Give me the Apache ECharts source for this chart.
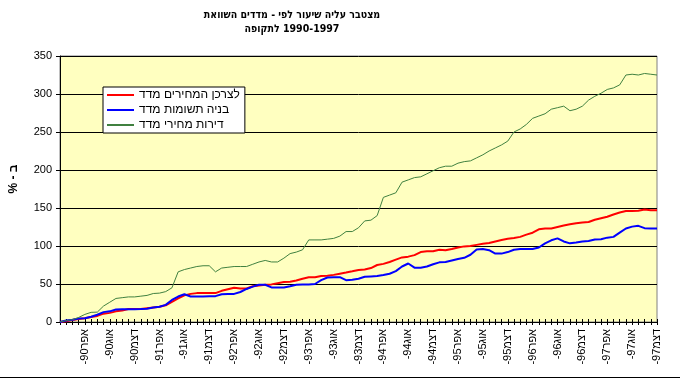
<!DOCTYPE html>
<html>
<head>
<meta charset="utf-8">
<script src="https://cdn.jsdelivr.net/npm/echarts@6/dist/echarts.min.js"></script>
<style>html,body{margin:0;padding:0;background:#fff}#c{width:680px;height:380px}</style>
</head>
<body>
<div id="c"></div>
<script>
// Texts as word lists; the reference shows the Hebrew words in left-to-right word order,
// so each word is laid out as its own rich-text token.
var titleWords1 = ['השוואת', 'מדדים', '-', 'לפי', 'שיעור', 'עליה', 'מצטבר'];
var titleWords2 = ['לתקופה', '1990-1997'];
var yAxisName = '% - ב';

var seriesNames = ['מדד המחירים לצרכן', 'מדד תשומות בניה', 'מדד מחירי דירות'];

var monthNames = ['ינו','פבר','מרץ','אפר','מאי','יונ','יול','אוג','ספט','אוק','נוב','דצמ'];
var years = ['89','90','91','92','93','94','95','96','97'];

// categories: Dec-89 .. Dec-97 (97 months)
var categories = ['דצמ-89'];
for (var y = 1; y < years.length; y++) {
  for (var m = 0; m < 12; m++) categories.push(monthNames[m] + '-' + years[y]);
}

var cpi = [0,1,2.6,4,5,6.5,8,11,12,14,15,17,17,17,18,19,20,22,26.5,31,35,37,38,38,38,
  38,41,43,45,44,44,47,48,49,49.5,51,52.5,53,54.5,57,59,59,60.5,61,62,63.5,65,66.7,68.5,
  69,71,75,76.5,79,82,85,86,88,92,93,93,95,94.5,96,98,99.5,100,101.5,103,104,106,108,109.5,
  110.5,112,115,117.5,122,123,123,125,127,128.5,130,131,131.5,134.5,136.5,138.5,141.5,144,146,146,146.5,148,147,147];

var construction = [0,2,3,4.5,5,7,9.5,13,14,16.5,16.7,16.7,16.7,17,17.5,19,20,22.5,29,33.5,36.5,33.5,33.5,33.5,33.8,
  34,36.5,37,37,39.5,43.5,46.5,49,49,45.5,45.5,45.5,47,49,49.5,49.5,50,55,58.5,59,59,55,55.5,57,
  59.5,60,60.5,61.8,63.5,67,73,77,71.5,71.5,73,76,78.5,79,81,83,84.5,88.5,95.5,96,94.5,90,90,92,
  95,96,96,96,98,103.5,107.5,110,106,103.5,104.5,106,106.5,108.5,109,111,112,117.5,123,125.5,126.5,123.5,123,123];

var housing = [0,2,3,6,10,12.7,13,21,26,31,32,33,33,34,35,37.5,38,40,45,66,69,71,73,74,74,
  66,71,72,73,73,73,76,79,81,79,79,84,90,92,95,108,108,108,109,110,113,119,119,124,
  133,134,140,164,167,170,184,187,190,191,195,199,203,205,205,209,211,212,216,220,225,229,233,238,
  250,254,260,268,271,274,280,282,284,278,280,284,292,297,301,306,308,312,325,326,325,327,326,325];

var seriesColors = ['#FF0000', '#0000FF', '#408040'];
var seriesWidths = [2, 2, 1];
var seriesData = [cpi, construction, housing];

var yMin = 0, yMax = 350, yStep = 50;

var labelFont = 'Liberation Sans, Arial, sans-serif';
var narrowFont = 'Liberation Sans Narrow, DejaVu Sans Condensed, Arial Narrow, sans-serif';

// each word becomes a token, tokens are placed left to right
function tokens(words, style) {
  return words.map(function (w, i) {
    return '{' + style + '|' + w + (i < words.length - 1 ? ' ' : '') + '}';
  }).join('');
}

var chart = echarts.init(document.getElementById('c'), null, {renderer: 'canvas'});

var series = seriesNames.map(function (name, i) {
  return {
    name: name,
    type: 'line',
    xAxisIndex: 0,
    data: seriesData[i],
    symbol: 'none',
    showSymbol: false,
    animation: false,
    lineStyle: {color: seriesColors[i], width: seriesWidths[i]},
    itemStyle: {color: seriesColors[i]},
    z: 2 + i
  };
});

var titleRich = {t: {fontFamily: narrowFont, fontSize: 10.5, fontWeight: 'bold', color: '#000', lineHeight: 13}};

chart.setOption({
  animation: false,
  backgroundColor: '#FFFFFF',
  title: [
    {text: tokens(titleWords1, 't'), left: 287, top: 4, textAlign: 'center',
     textStyle: {rich: titleRich}},
    {text: tokens(titleWords2, 't'), left: 287, top: 18, textAlign: 'center',
     textStyle: {rich: titleRich}}
  ],
  legend: {
    orient: 'vertical',
    left: 103, top: 87,
    padding: [1, 5, 1, 4],
    itemGap: 1,
    itemWidth: 27,
    itemHeight: 2,
    icon: 'rect',
    backgroundColor: '#FFFFFF',
    borderColor: '#000000',
    borderWidth: 1,
    borderRadius: 0,
    formatter: function (name) { return tokens(name.split(' '), 'l'); },
    textStyle: {
      fontFamily: labelFont, fontSize: 12, color: '#000',
      rich: {l: {fontFamily: labelFont, fontSize: 12, color: '#000', lineHeight: 14, height: 14}}
    },
    data: seriesNames
  },
  grid: {
    left: 60, right: 23, top: 56, bottom: 58,
    show: true, backgroundColor: '#FFFFC0', borderColor: '#808080', borderWidth: 1
  },
  xAxis: [{
    type: 'category',
    data: categories,
    boundaryGap: false,
    position: 'bottom',
    axisLine: {lineStyle: {color: '#000', width: 1}},
    axisTick: {show: true, interval: 0, length: 3, lineStyle: {color: '#000'}},
    axisLabel: {
      rotate: 90,
      interval: function (idx) { return idx > 0 && idx % 4 === 0; },
      formatter: function (v) {
        var p = v.split('-');
        return '{x|-' + p[1] + '}{x|' + p[0] + '}';
      },
      rich: {x: {fontFamily: labelFont, fontSize: 11, color: '#000'}},
      fontFamily: labelFont, fontSize: 11, color: '#000', margin: 7
    },
    splitLine: {show: false}
  }, {
    type: 'category',
    data: categories,
    boundaryGap: false,
    position: 'bottom',
    axisLine: {show: false},
    axisTick: {show: true, inside: true, interval: 0, length: 3, lineStyle: {color: '#000'}},
    axisLabel: {show: false},
    splitLine: {show: false}
  }],
  yAxis: {
    type: 'value',
    min: yMin, max: yMax, interval: yStep,
    name: yAxisName,
    nameLocation: 'middle',
    nameGap: 40,
    nameTextStyle: {fontFamily: labelFont, fontSize: 12, fontWeight: 'bold', color: '#000', padding: [0, 0, 0, 20]},
    axisLine: {show: true, lineStyle: {color: '#000', width: 1}},
    axisTick: {show: true, length: 4, lineStyle: {color: '#000'}},
    axisLabel: {fontFamily: labelFont, fontSize: 11, color: '#000', margin: 8},
    splitLine: {show: true, lineStyle: {color: '#000', width: 1}}
  },
  graphic: [{
    type: 'line', shape: {x1: 0, y1: 377.5, x2: 680, y2: 377.5},
    style: {stroke: '#000', lineWidth: 1}, silent: true
  }],
  series: series
});
</script>
</body>
</html>
